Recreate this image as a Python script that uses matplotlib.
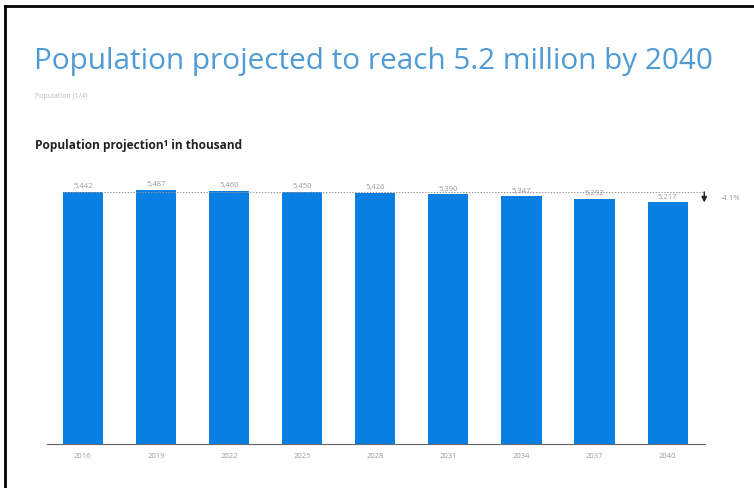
import numpy as np
import matplotlib.pyplot as plt
from matplotlib.lines import Line2D

# projected population, thousand
years = ['2016', '2019', '2022', '2025', '2028', '2031', '2034', '2037', '2040']
population = [5442, 5487, 5460, 5450, 5426, 5390, 5347, 5292, 5217]
change_label = '-4.1%'

plt.rcParams['font.family'] = ['Open Sans', 'DejaVu Sans']

fig = plt.figure(figsize=(7.54, 4.89), dpi=100)
W, H = 754, 489

# frame lines on the left and top
fig.add_artist(Line2D([5 / W, 5 / W], [0, 1 - 7 / H], color='black', lw=2))
fig.add_artist(Line2D([5 / W, 1], [1 - 7 / H, 1 - 7 / H], color='black', lw=2))

fig.text(34 / W, 1 - 61 / H, 'Population projected to reach 5.2 million by 2040',
         fontsize=21.4, color='#4f9bd6', va='center', ha='left')
fig.text(35 / W, 1 - 97 / H, 'Population (1/4)', fontsize=5, color='#bbbbbb',
         va='center', ha='left')
fig.text(35 / W, 1 - 145 / H, 'Population projection\u00b9 in thousand', fontsize=8.6,
         color='#222222', va='center', ha='left', fontweight='bold')

ax = fig.add_axes([47 / W, 44 / H, (705 - 47) / W, (445 - 170) / H])
x = np.arange(len(years))
ax.bar(x, population, width=0.55, color='#0a7fe3')
ax.set_xlim(-0.49, 8.51)
ax.set_ylim(0, 5442 * 275 / 252)

for xi, v in zip(x, population):
    ax.text(xi, v + 60, f'{v:,}', ha='center', va='bottom', fontsize=5.5, color='#999999')

# reference line at the first value and change marker
ax.plot([-0.27, 8.5], [population[0], population[0]], ls=(0, (1.5, 1.5)),
        color='#999999', lw=0.7, clip_on=False)
ax.annotate('', xy=(8.5, population[-1]), xytext=(8.5, population[0]),
            arrowprops=dict(arrowstyle='-|>', color='#222222', lw=1.0,
                            mutation_scale=8, shrinkA=0, shrinkB=0),
            annotation_clip=False)
ax.text(8.72, (population[0] + population[-1]) / 2, change_label, fontsize=5.5,
        color='#999999', va='center', ha='left', clip_on=False)

ax.set_xticks(x)
ax.set_xticklabels(years, fontsize=5.5, color='#999999')
ax.tick_params(axis='x', length=0, pad=6)
ax.set_yticks([])
for s in ['top', 'right', 'left']:
    ax.spines[s].set_visible(False)
ax.spines['bottom'].set_color('#666666')
ax.spines['bottom'].set_linewidth(0.8)

fig.savefig('out.png', dpi=100)
